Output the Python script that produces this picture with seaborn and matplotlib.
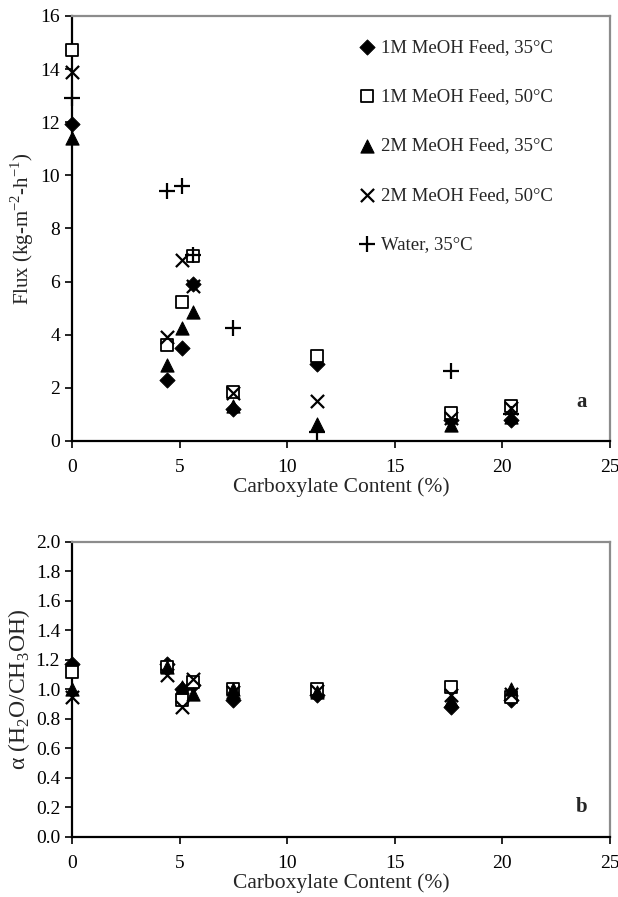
import pandas as pd
import matplotlib
matplotlib.use('Agg')
import matplotlib.pyplot as plt
import seaborn as sns

# carboxylate content (%) - same for all series
carbox = [0, 4.4, 5.1, 5.6, 7.5, 11.4, 17.6, 20.4]

# panel a: flux (kg m-2 h-1)
flux_1m35 = [11.95, 2.3, 3.5, 5.9, 1.2, 2.9, 0.8, 0.8]
flux_1m50 = [14.7, 3.6, 5.25, 6.95, 1.85, 3.2, 1.05, 1.3]
flux_2m35 = [11.4, 2.85, 4.25, 4.85, 1.3, 0.65, 0.6, 0.9]
flux_2m50 = [13.9, 3.9, 6.8, 5.85, 1.8, 1.5, 0.85, 1.25]
flux_water = [12.9, 9.4, 9.6, 7.0, 4.25, 0.35, 2.65, 1.0]

# panel b: separation factor
alpha_1m35 = [1.17, 1.17, 1.0, 1.03, 0.93, 0.96, 0.88, 0.93]
alpha_1m50 = [1.12, 1.15, 0.93, 1.05, 1.0, 1.0, 1.02, 0.95]
alpha_2m35 = [1.0, 1.15, 1.02, 0.97, 1.0, 0.98, 0.93, 1.0]
alpha_2m50 = [0.95, 1.1, 0.88, 1.07, 0.98, 0.99, 0.96, 0.97]

labels = ['1M MeOH Feed, 35°C', '1M MeOH Feed, 50°C', '2M MeOH Feed, 35°C',
          '2M MeOH Feed, 50°C', 'Water, 35°C']

sns.set_style('white')
plt.rcParams['font.family'] = ['Liberation Serif', 'DejaVu Serif']
plt.rcParams['mathtext.fontset'] = 'custom'
plt.rcParams['mathtext.rm'] = 'Liberation Serif'

# marker styles per series
styles = [
    dict(marker='D', s=60, color='black', edgecolor='black'),
    dict(marker='s', s=75, facecolor='white', edgecolor='black', linewidth=1.3),
    dict(marker='^', s=90, color='black', edgecolor='black'),
    dict(marker='x', s=90, color='black', linewidth=1.6),
    dict(marker='+', s=130, color='black', linewidth=1.6),
]


def style_axes(ax):
    for side in ['left', 'bottom']:
        ax.spines[side].set_color('black')
        ax.spines[side].set_linewidth(1.6)
    for side in ['top', 'right']:
        ax.spines[side].set_color('#8c8c8c')
        ax.spines[side].set_linewidth(1.6)
    ax.tick_params(axis='both', direction='out', length=5, width=1.2,
                   labelsize=14, left=True, bottom=True, colors='black')
    ax.tick_params(axis='x', pad=8)
    ax.set_xlim(0, 25)
    ax.set_xticks(range(0, 26, 5))
    ax.set_xlabel('Carboxylate Content (%)', fontsize=15.5, labelpad=1)


fig = plt.figure(figsize=(6.18, 8.97), dpi=100)
ax1 = fig.add_axes([0.1165, 0.5084, 0.8705, 0.4738])
ax2 = fig.add_axes([0.1165, 0.0669, 0.8705, 0.3289])

# panel a
flux = [flux_1m35, flux_1m50, flux_2m35, flux_2m50, flux_water]
for vals, lab, st in zip(flux, labels, styles):
    df = pd.DataFrame({'x': carbox, 'y': vals})
    sns.scatterplot(data=df, x='x', y='y', ax=ax1, label=lab, clip_on=False,
                    zorder=3, **st)
style_axes(ax1)
ax1.set_ylim(0, 16)
ax1.set_yticks(range(0, 17, 2))
ax1.set_ylabel('Flux (kg-m$^{\\mathregular{-2}}$-h$^{\\mathregular{-1}}$)', fontsize=15, labelpad=3)
ax1.legend(loc='upper left', bbox_to_anchor=(0.50, 0.982), frameon=False,
           fontsize=13.5, labelspacing=1.72, handletextpad=0.15, borderpad=0.3,
           handlelength=1.2)
ax1.text(23.7, 1.45, 'a', fontsize=15, fontweight='bold', ha='center', va='center')

# panel b
alpha = [alpha_1m35, alpha_1m50, alpha_2m35, alpha_2m50]
for vals, lab, st in zip(alpha, labels, styles):
    df = pd.DataFrame({'x': carbox, 'y': vals})
    sns.scatterplot(data=df, x='x', y='y', ax=ax2, legend=False, clip_on=False,
                    zorder=3, **st)
style_axes(ax2)
ax2.set_ylim(0, 2.0)
ax2.set_yticks([i / 10 for i in range(0, 21, 2)])
ax2.yaxis.set_major_formatter(matplotlib.ticker.FormatStrFormatter('%.1f'))
ax2.set_ylabel('α (H$_{\\mathregular{2}}$O/CH$_{\\mathregular{3}}$OH)', fontsize=17, labelpad=3)
ax2.text(23.7, 0.2, 'b', fontsize=15, fontweight='bold', ha='center', va='center')

fig.savefig('out.png', dpi=100)
